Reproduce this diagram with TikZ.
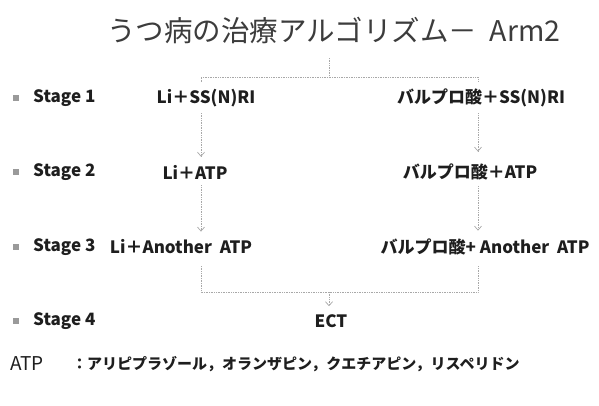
\documentclass[tikz,border=0pt]{standalone}
\usepackage{fontspec}
\setmainfont{Noto Sans CJK JP}
\usetikzlibrary{arrows.meta}
\definecolor{txt}{HTML}{1E1E1E}
\definecolor{ttl}{HTML}{3C3C3C}
\definecolor{conncol}{HTML}{A8A8A8}
\definecolor{bulcol}{HTML}{9A9A9A}
\begin{document}
\begin{tikzpicture}[x=1pt,y=-1pt,
  lbl/.style={font=\fontsize{17}{19}\selectfont\bfseries, text=txt, inner sep=0pt},
  stg/.style={lbl, anchor=west},
  bul/.style={rectangle, fill=bulcol, minimum size=6pt, inner sep=0pt},
  conn/.style={draw=conncol, densely dotted, line width=0.7pt},
  arr/.style={conn, -{Straight Barb[length=4pt,width=7pt]}}
]
\useasboundingbox (0,0) rectangle (599,405);
% title
\node[font=\fontsize{28.5}{31}\selectfont, text=ttl, inner sep=0pt] (title) at (334,30) {うつ病の治療アルゴリズム－\ \ Arm2};
% bullets and stage labels
\node[bul] (b1) at (16,98) {};
\node[bul] (b2) at (16,172) {};
\node[bul] (b3) at (16,247) {};
\node[bul] (b4) at (16,321) {};
\node[stg] (s1) at (33,98) {Stage 1};
\node[stg] (s2) at (33,172) {Stage 2};
\node[stg] (s3) at (33,247) {Stage 3};
\node[stg] (s4) at (33,321) {Stage 4};
% left column
\node[lbl] (l1) at (206,98) {Li＋SS(N)RI};
\node[lbl] (l2) at (195,172) {Li＋ATP};
\node[lbl] (l3) at (181,247) {Li＋Another\ \ ATP};
% right column
\node[lbl] (r1) at (481,98) {バルプロ酸＋SS(N)RI};
\node[lbl] (r2) at (470,172) {バルプロ酸＋ATP};
\node[lbl] (r3) at (485,247) {バルプロ酸+ Another\ \ ATP};
% stage 4
\node[lbl] (ect) at (331,321) {ECT};
% legend
\node[font=\fontsize{19}{21}\selectfont, text=txt, inner sep=0pt, anchor=west] (atp) at (10,364) {ATP};
\node[font=\fontsize{15}{18}\selectfont\bfseries, text=txt, inner sep=0pt, anchor=west] (atpl) at (72,364) {：アリピプラゾール，オランザピン，クエチアピン，リスペリドン};
% connector coordinates
\coordinate (cl) at (201,0);
\coordinate (cr) at (478,0);
\coordinate (tc) at (329,58);
\coordinate (tj) at (329,77);
\coordinate (tl) at (201,77);
\coordinate (tr) at (478,77);
\coordinate (tle) at (201,82);
\coordinate (tre) at (478,82);
\coordinate (bl) at (201,266);
\coordinate (br) at (478,266);
\coordinate (bj) at (329,292);
\coordinate (blc) at (201,292);
\coordinate (brc) at (478,292);
% top bracket
\draw[conn] (tc) -- (tj);
\draw[conn] (tle) -- (tl) -- (tr) -- (tre);
% vertical arrows
\draw[arr, shorten <=6pt, shorten >=8pt] (l1.south -| cl) -- (l2.north -| cl);
\draw[arr, shorten <=6pt, shorten >=8pt] (l2.south -| cl) -- (l3.north -| cl);
\draw[arr, shorten <=6pt, shorten >=12pt] (r1.south -| cr) -- (r2.north -| cr);
\draw[arr, shorten <=6pt, shorten >=8pt] (r2.south -| cr) -- (r3.north -| cr);
% bottom bracket
\draw[conn] (bl) -- (blc) -- (brc) -- (br);
\draw[arr, shorten >=8pt] (bj) -- (ect.north -| bj);
\end{tikzpicture}
\end{document}
